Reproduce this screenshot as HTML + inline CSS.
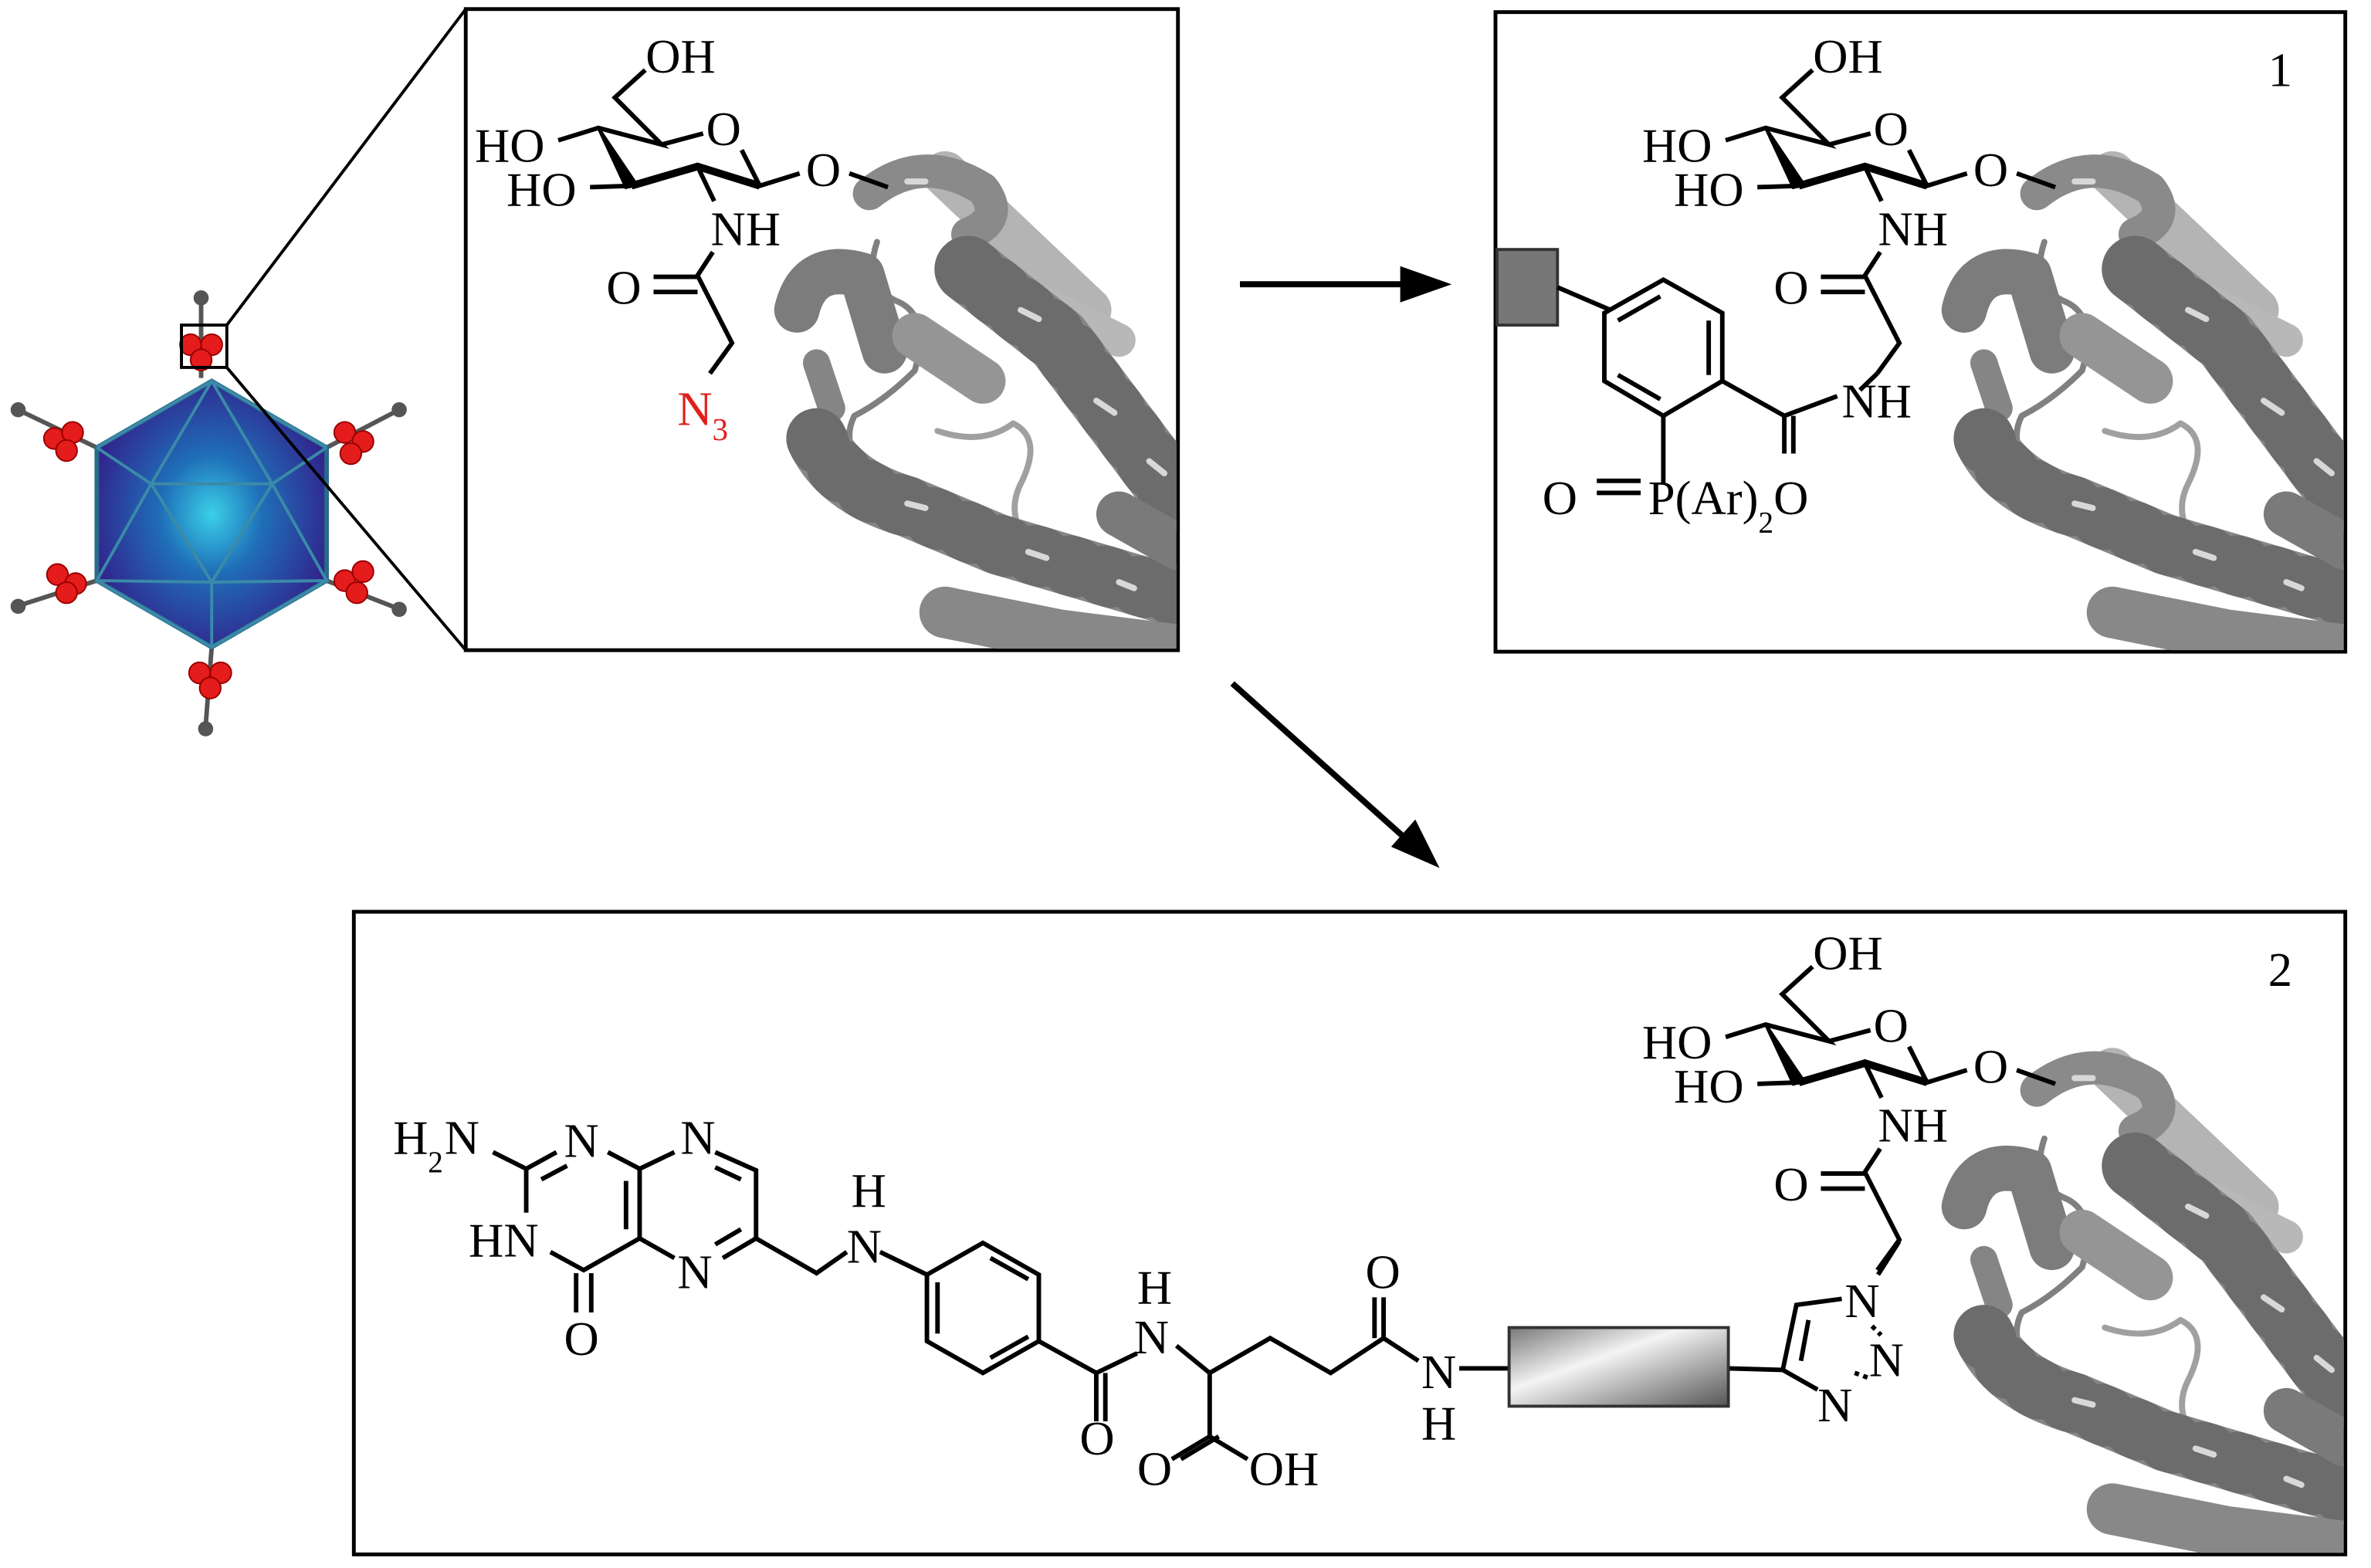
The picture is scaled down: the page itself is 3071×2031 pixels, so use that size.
<!DOCTYPE html>
<html><head><meta charset="utf-8"><style>
html,body{margin:0;padding:0;background:#fff}
svg{display:block}
text{font-family:"Liberation Serif",serif;fill:#000;font-size:32px}
</style></head><body>
<svg width="3071" height="2031" viewBox="0 0 1568 1037" xmlns="http://www.w3.org/2000/svg">
<defs>
<radialGradient id="ico" cx="50%" cy="50%" r="55%">
<stop offset="0" stop-color="#3ad0e8"/><stop offset="0.4" stop-color="#1f6fb8"/><stop offset="1" stop-color="#32208a"/>
</radialGradient>
<linearGradient id="bar" x1="0" y1="0" x2="1" y2="1">
<stop offset="0" stop-color="#777"/><stop offset="0.4" stop-color="#f4f4f4"/><stop offset="1" stop-color="#555"/>
</linearGradient>
<clipPath id="cA"><rect x="309" y="7" width="469" height="422"/></clipPath>
<clipPath id="c1"><rect x="990" y="9" width="560" height="421"/></clipPath>
<clipPath id="c2"><rect x="235" y="604" width="1315" height="423"/></clipPath>
<g id="prot" fill="none" stroke-linecap="round" stroke-linejoin="round">
<path d="M625,115 L720,205" stroke="#b4b4b4" stroke-width="30"/>
<path d="M690,200 L740,225" stroke="#b8b8b8" stroke-width="22"/>
<path d="M580,160 q-10,30 15,40 q20,10 10,45 q-20,20 -40,30 q-10,20 10,40 q20,10 10,30" stroke="#808080" stroke-width="4"/>
<path d="M620,285 q30,10 50,-5 q20,10 5,40 q-10,20 5,40" stroke="#a0a0a0" stroke-width="4"/>
<path d="M575,128 Q610,100 650,125 Q665,145 640,155" stroke="#8a8a8a" stroke-width="22"/>
<path d="M640,178 L700,225 L779,330" stroke="#878787" stroke-width="44"/>
<path d="M640,178 L700,225 L779,330" stroke="#6c6c6c" stroke-width="44" stroke-dasharray="4,18"/>
<path d="M527,205 Q535,172 570,182 L585,232" stroke="#7c7c7c" stroke-width="30"/>
<path d="M540,240 L550,270" stroke="#858585" stroke-width="18"/>
<path d="M605,222 L650,252" stroke="#959595" stroke-width="30"/>
<path d="M540,290 Q555,322 600,335 L660,360 L779,395" stroke="#878787" stroke-width="40"/>
<path d="M540,290 Q555,322 600,335 L660,360 L779,395" stroke="#6c6c6c" stroke-width="40" stroke-dasharray="4,20"/>
<path d="M625,405 L700,420 L779,430" stroke="#888" stroke-width="34"/>
<path d="M740,340 L779,362" stroke="#7a7a7a" stroke-width="30"/>
<path d="M600,120 l12,0 M675,205 l12,6 M725,265 l12,8 M760,305 l10,8 M600,333 l12,3 M680,365 l12,4 M740,385 l10,4" stroke="#d8d8d8" stroke-width="4"/>
</g>
<g id="sug" fill="none" stroke="#000" stroke-width="3">
<path d="M426.7,46.3 L406.6,64.5 L437.6,95.6 L395.7,84.6 L369.2,92.8"/>
<path d="M437.6,95.6 L465,88.3 M490.5,99.2 L502.4,122.9 L528.8,114.7 M561.7,114.7 L587.2,123.8"/>
<polygon points="395.7,84.6 414,124 421,122" fill="#000" stroke-width="2"/>
<path d="M417.6,122.9 L461.3,110.1 L502.4,122.9" stroke-width="5"/>
<path d="M417.6,122.9 L390.2,123.8"/>
<path d="M461.3,110.1 L472.3,133"/>
<path d="M471.4,166.7 L461.3,182.2 L484.1,226.9 L469.5,247"/>
<path d="M461.3,183.1 L432.2,183.1 M461.3,193.1 L432.2,193.1"/>
</g>
</defs>

<!-- icosahedron -->
<g stroke="#555" stroke-width="3">
<line x1="133" y1="250" x2="133" y2="200"/><line x1="216" y1="296" x2="262" y2="272"/><line x1="216" y1="384" x2="262" y2="402"/>
<line x1="140" y1="428" x2="136" y2="480"/><line x1="64" y1="384" x2="14" y2="400"/><line x1="64" y1="296" x2="14" y2="272"/>
</g>
<g fill="#555"><circle cx="133" cy="197" r="5"/><circle cx="264" cy="271" r="5"/><circle cx="264" cy="403" r="5"/><circle cx="136" cy="482" r="5"/><circle cx="12" cy="401" r="5"/><circle cx="12" cy="271" r="5"/></g>
<polygon points="140,252 216,296 216,384 140,428 64,384 64,296" fill="url(#ico)" stroke="#2a6a8a" stroke-width="3"/>
<g stroke="#3a8aa8" stroke-width="2" fill="none">
<path d="M140,252 L100,320 L180,320 Z M100,320 L140,385 L180,320 M64,296 L100,320 L64,384 L140,385 L140,428 M216,296 L180,320 L216,384 L140,385 M140,252 L64,296 M140,252 L216,296 M64,384 L140,428 L216,384"/>
</g>
<g fill="#e41c1c" stroke="#900" stroke-width="1">
<circle cx="126" cy="228" r="7"/><circle cx="140" cy="228" r="7"/><circle cx="133" cy="238" r="7"/>
<circle cx="228" cy="286" r="7"/><circle cx="240" cy="292" r="7"/><circle cx="232" cy="300" r="7"/>
<circle cx="228" cy="384" r="7"/><circle cx="240" cy="378" r="7"/><circle cx="236" cy="392" r="7"/>
<circle cx="132" cy="445" r="7"/><circle cx="146" cy="445" r="7"/><circle cx="139" cy="455" r="7"/>
<circle cx="38" cy="380" r="7"/><circle cx="50" cy="386" r="7"/><circle cx="44" cy="392" r="7"/>
<circle cx="36" cy="290" r="7"/><circle cx="48" cy="286" r="7"/><circle cx="44" cy="298" r="7"/>
</g>
<rect x="120" y="215" width="30" height="28" fill="none" stroke="#000" stroke-width="2"/>
<line x1="150" y1="215" x2="308" y2="6" stroke="#000" stroke-width="2"/>
<line x1="150" y1="243" x2="308" y2="430" stroke="#000" stroke-width="2"/>

<!-- Box A -->
<rect x="308" y="6" width="471" height="424" fill="none" stroke="#000" stroke-width="2.5"/>
<g clip-path="url(#cA)"><use href="#prot"/></g>
<use href="#sug"/>
<text x="427" y="48">OH</text><text x="314" y="107">HO</text><text x="335" y="136">HO</text>
<text x="467" y="96">O</text><text x="533" y="123">O</text><text x="470" y="162">NH</text>
<text x="401" y="201">O</text>
<text x="448" y="281" style="fill:#e0201c">N</text><text x="471" y="291" style="fill:#e0201c;font-size:21px">3</text>

<!-- arrows -->
<g stroke="#000" stroke-width="4"><line x1="820" y1="188" x2="935" y2="188"/><line x1="815" y1="452" x2="930" y2="555"/></g>
<polygon points="960,188 926,176 926,200" fill="#000"/>
<polygon points="952,574 920,560 936,542" fill="#000"/>

<!-- Box 1 -->
<rect x="989" y="8" width="562" height="423" fill="none" stroke="#000" stroke-width="2.5"/>
<g clip-path="url(#c1)"><use href="#prot" transform="translate(772,0)"/></g>
<use href="#sug" transform="translate(772,0)"/>
<text x="1199" y="48">OH</text><text x="1086" y="107">HO</text><text x="1107" y="136">HO</text>
<text x="1239" y="96">O</text><text x="1305" y="123">O</text><text x="1242" y="162">NH</text>
<text x="1173" y="201">O</text><text x="1500" y="57">1</text>
<rect x="990" y="165" width="40" height="50" fill="#777" stroke="#333" stroke-width="2"/>
<g fill="none" stroke="#000" stroke-width="3">
<path d="M1030,190 L1065,205"/>
<polygon points="1100,185 1139,207 1139,252 1100,275 1061,252 1061,207"/>
<path d="M1130,212 L1130,248 M1070,212 L1098,196 M1098,264 L1070,248"/>
<path d="M1139,252 L1180,275 L1215,262 M1180,275 L1180,300 M1186,275 L1186,300"/>
<path d="M1100,275 L1100,320"/>
<path d="M1241.5,247 L1230,258"/>
<path d="M1056,318 L1085,318 M1056,326 L1085,326"/>
</g>
<text x="1218" y="276">NH</text>
<text x="1020" y="340">O</text><text x="1090" y="340">P(Ar)<tspan dy="12" style="font-size:20px">2</tspan><tspan dy="-12">O</tspan></text>

<!-- Box 2 -->
<rect x="234" y="603" width="1317" height="425" fill="none" stroke="#000" stroke-width="2.5"/>
<g clip-path="url(#c2)"><use href="#prot" transform="translate(772,593)"/></g>
<use href="#sug" transform="translate(772,593)"/>
<text x="1199" y="641">OH</text><text x="1086" y="700">HO</text><text x="1107" y="729">HO</text>
<text x="1239" y="689">O</text><text x="1305" y="716">O</text><text x="1242" y="755">NH</text>
<text x="1173" y="794">O</text><text x="1500" y="652">2</text>
<g fill="none" stroke="#000" stroke-width="3">
<path d="M326,762 L348,773 L368,762 M348,773 L348,802"/>
<path d="M358,780 L375,771"/>
<path d="M364,828 L386,840 L423,819 L423,773 L402,762 M423,773 L446,762"/>
<path d="M414,781 L414,813"/>
<path d="M423,819 L446,832"/>
<path d="M473,762 L500,774 L500,819 L478,832"/>
<path d="M473,772 L490,780 M473,823 L490,813"/>
<path d="M381,842 L381,868 M391,842 L391,868"/>
<path d="M500,819 L540,842 L560,828 M582,828 L613,843"/>
<polygon points="650,822 687,843 687,887 650,908 613,887 613,843"/>
<path d="M620,848 L620,882 M655,832 L680,846 M680,884 L655,898"/>
<path d="M687,887 L725,908 L752,895 M725,908 L725,940 M731,908 L731,940"/>
<path d="M778,890 L800,908 L840,885 L880,908 L915,885 L938,900"/>
<path d="M915,885 L915,858 M909,885 L909,858"/>
<path d="M800,908 L800,950 L775,965 M800,950 L825,965 M806,950 L781,965"/>
<path d="M965,905 L998,905 M1143,905 L1179,906"/>
<path d="M1179,906 L1188,863 L1218,859 M1179,906 L1202,919 M1196,873 L1191,900"/>
<path d="M1256,821 L1242,843"/>
</g>
<g stroke="#000" stroke-width="3"><line x1="1238" y1="877" x2="1244" y2="883" stroke-dasharray="3,3"/><line x1="1235" y1="911" x2="1224" y2="907" stroke-dasharray="3,3"/></g>
<rect x="998" y="878" width="145" height="52" fill="url(#bar)" stroke="#333" stroke-width="2"/>
<text x="260" y="763">H</text><text x="283" y="775" style="font-size:20px">2</text><text x="294" y="763">N</text>
<text x="373" y="765">N</text><text x="450" y="763">N</text><text x="310" y="831">HN</text><text x="448" y="852">N</text>
<text x="373" y="896">O</text>
<text x="563" y="798">H</text><text x="560" y="835">N</text>
<text x="752" y="862">H</text><text x="750" y="895">N</text><text x="714" y="962">O</text>
<text x="752" y="982">O</text><text x="826" y="982">OH</text>
<text x="903" y="852">O</text><text x="940" y="918">N</text><text x="940" y="952">H</text>
<text x="1220" y="871">N</text><text x="1236" y="910">N</text><text x="1202" y="940">N</text>
</svg>
</body></html>
